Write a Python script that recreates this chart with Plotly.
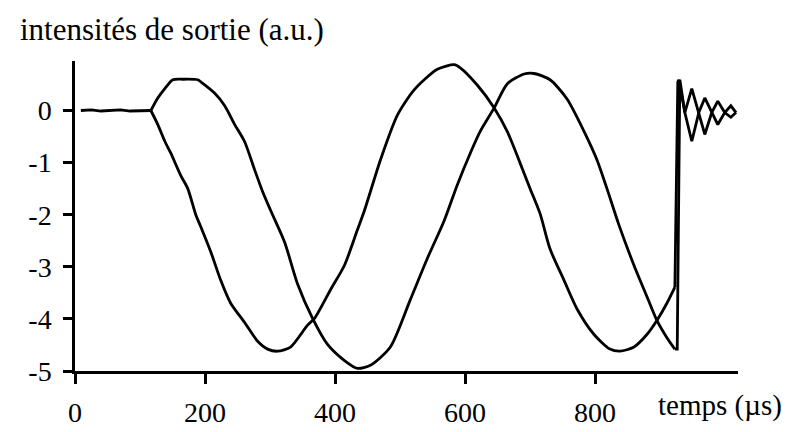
import plotly.graph_objects as go

# time (µs) and output intensity (a.u.)
flat_t = [9, 25, 40, 55, 70, 85, 100, 116.7]
flat_v = [0.0, 0.01, -0.01, 0.0, 0.01, -0.01, 0.0, 0.0]

curve_a_t = [116.7, 127.4, 138.2, 147.4, 162.8, 173.5, 185.8, 193.5, 208.8, 224.2,
             239.5, 261.0, 281.0, 296.3, 311.7, 331.7, 357.8, 368.5, 393.1, 414.6,
             434.5, 445.3, 469.9, 496.0, 522.1, 557.4, 583.5, 592.7, 618.8, 644.9,
             664.9, 684.8, 700.2, 715.5, 730.9, 752.4, 772.4, 798.5, 823.0, 838.4,
             859.9, 879.8, 895.2, 910.6, 922.9, 927.4,
             929.0, 938.2, 948.9, 959.7, 968.9, 979.6, 988.9, 999.6, 1009.0, 1017.0]
curve_a_v = [0.0, -0.27, -0.59, -0.82, -1.25, -1.50, -2.00, -2.23, -2.71, -3.26,
             -3.70, -4.07, -4.43, -4.58, -4.62, -4.54, -4.12, -3.99, -3.44, -2.97,
             -2.29, -1.92, -0.95, -0.09, 0.40, 0.79, 0.88, 0.82, 0.49, 0.05,
             -0.40, -1.01, -1.50, -1.98, -2.66, -3.26, -3.81, -4.30, -4.58, -4.62,
             -4.54, -4.30, -4.03, -3.70, -3.39, 0.55,
             0.59, -0.04, -0.59, -0.04, 0.24, -0.04, -0.27, -0.04, 0.09, -0.04]

curve_b_t = [116.7, 127.4, 138.2, 150.5, 165.8, 188.9, 193.5, 215.0, 230.3, 245.7,
             261.0, 276.4, 288.7, 301.0, 322.5, 342.4, 365.5, 388.5, 414.6, 434.5,
             454.5, 485.2, 515.9, 542.0, 568.1, 588.1, 608.1, 623.4, 644.9, 664.9,
             691.0, 706.3, 730.9, 757.0, 783.1, 803.1, 818.4, 836.9, 859.9, 879.8,
             895.2, 910.6, 922.9, 926.5,
             930.5, 938.2, 948.9, 959.7, 968.9, 979.6, 988.9, 999.6, 1009.0, 1017.0]
curve_b_v = [0.0, 0.24, 0.42, 0.59, 0.60, 0.59, 0.55, 0.33, 0.09, -0.27,
             -0.60, -1.14, -1.56, -1.92, -2.53, -3.33, -3.99, -4.49, -4.80, -4.95,
             -4.89, -4.54, -3.63, -2.84, -2.11, -1.43, -0.82, -0.40, 0.05, 0.51,
             0.70, 0.71, 0.59, 0.22, -0.40, -0.95, -1.50, -2.20, -2.97, -3.57,
             -4.03, -4.36, -4.58, -4.58,
             0.59, -0.04, 0.42, -0.04, -0.46, -0.04, 0.18, -0.04, -0.13, -0.04]

x_ticks = [0, 200, 400, 600, 800]
y_ticks = [0, -1, -2, -3, -4, -5]
y_ticktext = ["0", "-1", "-2", "-3", "-4", "-5"]

FONT = "Liberation Serif, Times New Roman, serif"
smooth = dict(color="black", width=2.8, shape="spline", smoothing=0.7)
straight = dict(color="black", width=2.8)

# index where the sweep ends (vertical jump + ringing drawn straight)
END_A = 44
END_B = 42

fig = go.Figure()
fig.add_trace(go.Scatter(x=flat_t, y=flat_v, mode="lines", line=straight, showlegend=False))
fig.add_trace(go.Scatter(x=curve_a_t[:END_A + 1], y=curve_a_v[:END_A + 1], mode="lines",
                         line=smooth, showlegend=False))
fig.add_trace(go.Scatter(x=curve_a_t[END_A:], y=curve_a_v[END_A:], mode="lines",
                         line=straight, showlegend=False))
fig.add_trace(go.Scatter(x=curve_b_t[:END_B + 1], y=curve_b_v[:END_B + 1], mode="lines",
                         line=smooth, showlegend=False))
fig.add_trace(go.Scatter(x=curve_b_t[END_B:], y=curve_b_v[END_B:], mode="lines",
                         line=straight, showlegend=False))

fig.update_layout(
    width=789, height=432,
    margin=dict(l=67, r=59, t=53, b=54),
    paper_bgcolor="white", plot_bgcolor="white",
    font=dict(family=FONT, size=28, color="black"),
    xaxis=dict(range=[0, 1020], tickvals=x_ticks, ticktext=[str(v) for v in x_ticks],
               showgrid=False, zeroline=False, showline=True, linecolor="black", linewidth=2.5,
               ticks="outside", ticklen=10, tickwidth=2.5, tickcolor="black",
               ticklabelstandoff=5),
    yaxis=dict(range=[-5, 0.95], tickvals=y_ticks, ticktext=y_ticktext,
               showgrid=False, zeroline=False, showline=True, linecolor="black", linewidth=2.5,
               ticks="outside", ticklen=9, tickwidth=2.5, tickcolor="black",
               ticklabelstandoff=6),
    annotations=[
        dict(text="intensités de sortie (a.u.)", xref="paper", yref="paper",
             x=(10 - 67) / 663, y=1 + 33 / 325, xanchor="left", yanchor="middle",
             showarrow=False, font=dict(family=FONT, size=31, color="black")),
        dict(text="temps (µs)", xref="paper", yref="paper",
             x=(648 - 67) / 663, y=-36 / 325, xanchor="left", yanchor="middle",
             showarrow=False, font=dict(family=FONT, size=29, color="black")),
    ],
)

fig.write_html("out.html")
